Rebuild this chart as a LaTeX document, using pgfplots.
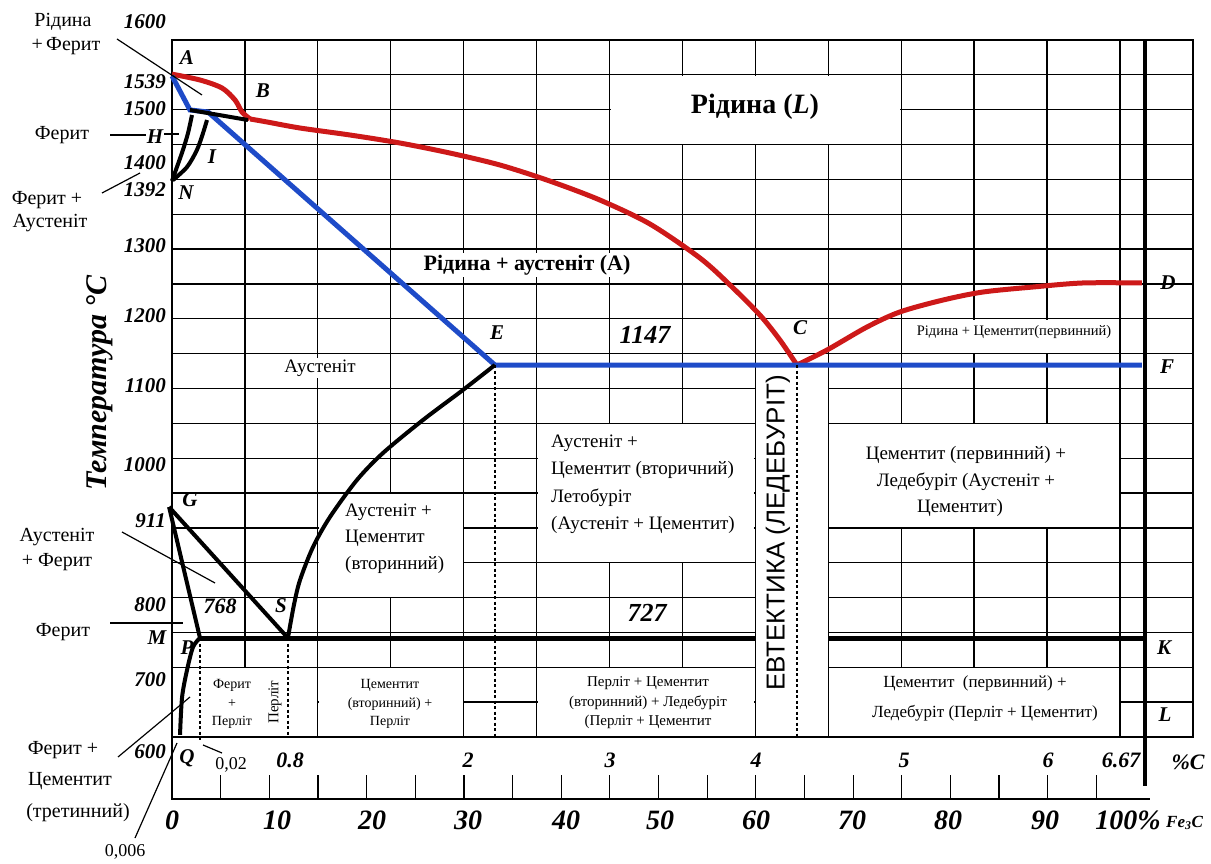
\documentclass[border=0pt]{standalone}
\usepackage{pgfplots}
\pgfplotsset{compat=1.18}
\usepackage{fontspec}
\setmainfont{Liberation Serif}
\newfontfamily\sansf{Liberation Sans}
\definecolor{liq}{RGB}{205,25,25}
\definecolor{sol}{RGB}{30,75,200}
\newcommand{\fs}[1]{\fontsize{#1}{#1}\selectfont}
\begin{document}
\begin{tikzpicture}[x=1pt,y=1pt]
\path[use as bounding box] (0,0) rectangle (1211,863);
\begin{axis}[
  at={(172pt,126pt)}, anchor=south west,
  scale only axis, width=1021pt, height=697pt,
  xmin=0, xmax=7, ymin=600, ymax=1600,
  xtick={0,0.5,...,7}, ytick={600,650,...,1600},
  xticklabels={,,}, yticklabels={,,},
  tick label style={opacity=0},
  major tick length=0pt,
  grid=major, grid style={black, line width=1.3pt},
  axis line style={black, line width=1.4pt},
  clip=false,
]
% merged cells (no grid)
\fill[white] (axis cs:3.007,1451.4) rectangle (axis cs:4.993,1548.6);
\fill[white] (axis cs:2.507,851.4) rectangle (axis cs:3.993,1048.6);
\fill[white] (axis cs:4.507,901.4) rectangle (axis cs:6.493,1048.6);
\fill[white] (axis cs:1.007,801.4) rectangle (axis cs:1.993,948.6);
\fill[white] (axis cs:5.007,1151.4) rectangle (axis cs:6.493,1198.6);
\fill[white] (axis cs:0.007,601.4) rectangle (axis cs:0.993,698.6);
\fill[white] (axis cs:1.007,601.4) rectangle (axis cs:1.993,698.6);
\fill[white] (axis cs:2.507,601.4) rectangle (axis cs:3.993,698.6);
\fill[white] (axis cs:4.507,601.4) rectangle (axis cs:6.493,698.6);
% PSK line (727)
\addplot[black, line width=5pt] coordinates {(0.192,742) (6.67,742)};
% liquidus AB, BC
\addplot[liq, line width=5pt, smooth] coordinates {(0,1551) (0.192,1542.6) (0.343,1531.1) (0.432,1513.9) (0.480,1496.7) (0.535,1486.7)};
\addplot[liq, line width=5pt, smooth] coordinates {(0.535,1486.7) (0.651,1482.4) (0.878,1473.7) (1.220,1463.7) (1.563,1452.2) (1.906,1437.8) (2.249,1420.6) (2.591,1397.6) (2.934,1370.4) (3.277,1336) (3.620,1287.2) (3.826,1248.5) (4.031,1205.4) (4.168,1169.6) (4.285,1133.7)};
% liquidus CD
\addplot[liq, line width=5pt, smooth] coordinates {(4.285,1133.7) (4.491,1155.2) (4.765,1188.2) (4.991,1209.8) (5.286,1226.9) (5.560,1238.4) (5.903,1245.6) (6.246,1251.4) (6.65,1251.4)};
% solidus AHJE + ECF
\addplot[sol, line width=5pt] coordinates {(0,1548.4) (0.123,1499.6) (0.247,1496.7) (2.214,1133.7) (6.65,1133.7)};
% peritectic HJB
\addplot[black, line width=4pt] coordinates {(0.123,1499.6) (0.521,1485.2)};
% HN and JN
\addplot[black, line width=4pt, smooth] coordinates {(0.137,1492.4) (0.110,1466.6) (0.075,1442.2) (0.034,1417.8) (0,1397.7)};
\addplot[black, line width=4pt, smooth] coordinates {(0.240,1485.2) (0.213,1466.6) (0.171,1442.2) (0.103,1417.8) (0.007,1399.1)};
% GS, GP
\addplot[black, line width=4pt] coordinates {(-0.02,930) (0.795,742)};
\addplot[black, line width=4pt] coordinates {(-0.02,930) (0.192,742)};
% PQ
\addplot[black, line width=4pt, smooth] coordinates {(0.192,742) (0.144,729) (0.103,696) (0.069,657) (0.055,603)};
% SE
\addplot[black, line width=4pt, smooth] coordinates {(0.795,742.1) (0.836,789.4) (0.878,825.3) (0.967,872.6) (1.083,915.6) (1.268,968.7) (1.447,1007.5) (1.721,1054.8) (1.995,1097.9) (2.214,1133.7)};
% 6.67 % C (Fe3C) vertical
\addplot[black, line width=4pt] coordinates {(6.67,1600) (6.67,530)};
% eutectic band
\fill[white] (axis cs:4.0,600.8) rectangle (axis cs:4.5,1127);
\draw[black, line width=1.3pt] (axis cs:4.0,600) -- (axis cs:4.0,1128);
\draw[black, line width=1.3pt] (axis cs:4.5,600) -- (axis cs:4.5,1128);
% dotted verticals
\addplot[black, line width=1.6pt, dash pattern=on 3pt off 2.5pt] coordinates {(0.192,742) (0.192,596)};
\addplot[black, line width=1.6pt, dash pattern=on 3pt off 2.5pt] coordinates {(0.795,742) (0.795,600)};
\addplot[black, line width=1.6pt, dash pattern=on 3pt off 2.5pt] coordinates {(2.214,1133.7) (2.214,600)};
\addplot[black, line width=1.6pt, dash pattern=on 3pt off 2.5pt] coordinates {(4.285,1133.7) (4.285,600)};
\end{axis}
\begin{scope}[x=1pt,y=-1pt,yshift=863pt]
% bottom strip (%C / %Fe3C scale)
\draw[black, line width=1.3pt] (172,737) -- (172,799) -- (1150,799);
\foreach \k in {1,...,19} {\draw[black, line width=1.2pt] ({172+48.65*\k},775) -- ({172+48.65*\k},799);}
% temperature labels
\begin{scope}[every node/.style={anchor=east, inner sep=0pt, font=\fs{21}\bfseries\itshape}]
\node at (166,22) {1600};
\node at (166,82) {1539};
\node at (166,109) {1500};
\node at (166,163) {1400};
\node at (166,190) {1392};
\node at (166,246) {1300};
\node at (166,316) {1200};
\node at (166,386) {1100};
\node at (166,465) {1000};
\node at (166,521) {911};
\node at (166,605) {800};
\node at (166,680) {700};
\node at (166,752) {600};
\end{scope}
% point letters
\begin{scope}[every node/.style={inner sep=0pt, font=\fs{21}\bfseries\itshape}]
\node at (187,58) {A};
\node at (263,91) {B};
\node at (155,137) {H};
\node at (212,157) {I};
\node at (186,193) {N};
\node at (190,500) {G};
\node at (157,638) {M};
\node at (187,648) {P};
\node at (187,758) {Q};
\node at (281,606) {S};
\node at (497,333) {E};
\node at (800,328) {C};
\node at (1168,283) {D};
\node at (1167,367) {F};
\node at (1164,648) {K};
\node at (1165,715) {L};
\end{scope}
\node[inner sep=0pt, font=\fs{22}\bfseries\itshape] at (220,606) {768};
\node[inner sep=0pt, font=\fs{26}\bfseries\itshape] at (647,613) {727};
\node[inner sep=0pt, font=\fs{26}\bfseries\itshape] at (645,335) {1147};
% %C labels
\begin{scope}[every node/.style={inner sep=0pt, font=\fs{22}\bfseries\itshape}]
\node at (290,760) {0.8};
\node at (468,760) {2};
\node at (610,760) {3};
\node at (756,760) {4};
\node at (904,760) {5};
\node at (1048,760) {6};
\node at (1121,760) {6.67};
\node at (1188,762) {\%C};
\end{scope}
% Fe3C labels
\begin{scope}[every node/.style={inner sep=0pt, font=\fs{28}\bfseries\itshape}]
\node at (172,820) {0};
\node at (277,820) {10};
\node at (372,820) {20};
\node at (468,820) {30};
\node at (566,820) {40};
\node at (660,820) {50};
\node at (756,820) {60};
\node at (852,820) {70};
\node at (948,820) {80};
\node at (1045,820) {90};
\node at (1128,820) {100\%};
\node[anchor=west, font=\fs{17}\bfseries\itshape] at (1166,823) {Fe\textsubscript{3}C};
\end{scope}
\node[inner sep=0pt, font=\fs{18}] at (231,765) {0,02};
\node[inner sep=0pt, font=\fs{18}] at (125,852) {0,006};
% axis title
\node[rotate=90, inner sep=0pt, font=\fs{30}\bfseries\itshape] at (100,383) {Температура °C};
% leader lines
\begin{scope}[black, line width=1.2pt]
\draw (117,39) -- (202,95);
\draw (110,135) -- (146,135);
\draw (164,134) -- (179,134);
\draw (102,193) -- (140,173);
\draw (122,532) -- (215,583);
\draw (110,623) -- (183,623);
\draw (118,757) -- (190,697);
\draw (135,838) -- (177,743);
\draw (203,745) -- (222,753);
\end{scope}
% left annotations
\begin{scope}[every node/.style={inner sep=0pt, font=\fs{20}}]
\node at (63,22) {Рідина};
\node at (66,46) {+\,Ферит};
\node at (62,135) {Ферит};
\node at (47,200) {Ферит +};
\node at (50,223) {Аустеніт};
\node at (57,537) {Аустеніт};
\node at (57,562) {+ Ферит};
\node at (63,632) {Ферит};
\node at (63,750) {Ферит +};
\node at (70,781) {Цементит};
\node at (78,813) {(третинний)};
\end{scope}
% region labels
\node[inner sep=0pt, font=\fs{28}\bfseries] at (755,107) {Рідина (\textit{L})};
\node[fill=white, inner sep=1.5pt, font=\fs{22}\bfseries] at (527,265) {Рідина + аустеніт (A)};
\node[fill=white, inner sep=1.5pt, font=\fs{19}] at (320,368) {Аустеніт};
\begin{scope}[every node/.style={anchor=west, inner sep=0pt, font=\fs{19}}]
\node at (551,443) {Аустеніт +};
\node at (551,470) {Цементит (вторичний)};
\node at (551,498) {Летобуріт};
\node at (551,525) {(Аустеніт + Цементит)};
\node at (345,512) {Аустеніт +};
\node at (345,538) {Цементит};
\node at (345,565) {(вторинний)};
\end{scope}
\begin{scope}[every node/.style={inner sep=0pt, font=\fs{19}}]
\node at (966,455) {Цементит (первинний) +};
\node at (966,482) {Ледебуріт (Аустеніт +};
\node at (960,508) {Цементит)};
\end{scope}
\node[inner sep=0pt, font=\fs{14.5}] at (1014,332) {Рідина + Цементит(первинний)};
\node[rotate=90, inner sep=0pt, font=\sansf\fs{26}] at (778,533) {ЕВТЕКТИКА (ЛЕДЕБУРІТ)};
\begin{scope}[every node/.style={inner sep=0pt, font=\fs{14}}]
\node at (232,685) {Ферит};
\node at (232,704) {+};
\node at (232,722) {Перліт};
\node at (390,685) {Цементит};
\node at (390,704) {(вторинний) +};
\node at (390,722) {Перліт};
\end{scope}
\node[rotate=90, inner sep=0pt, font=\fs{15}] at (275,702) {Перліт};
\begin{scope}[every node/.style={inner sep=0pt, font=\fs{15}}]
\node at (648,683) {Перліт + Цементит};
\node at (648,703) {(вторинний) + Ледебуріт};
\node at (648,722) {(Перліт + Цементит};
\end{scope}
\begin{scope}[every node/.style={inner sep=0pt, font=\fs{17}}]
\node at (975,683) {Цементит\ \ (первинний) +};
\node at (985,713) {Ледебуріт (Перліт + Цементит)};
\end{scope}
\end{scope}
\end{tikzpicture}
\end{document}
